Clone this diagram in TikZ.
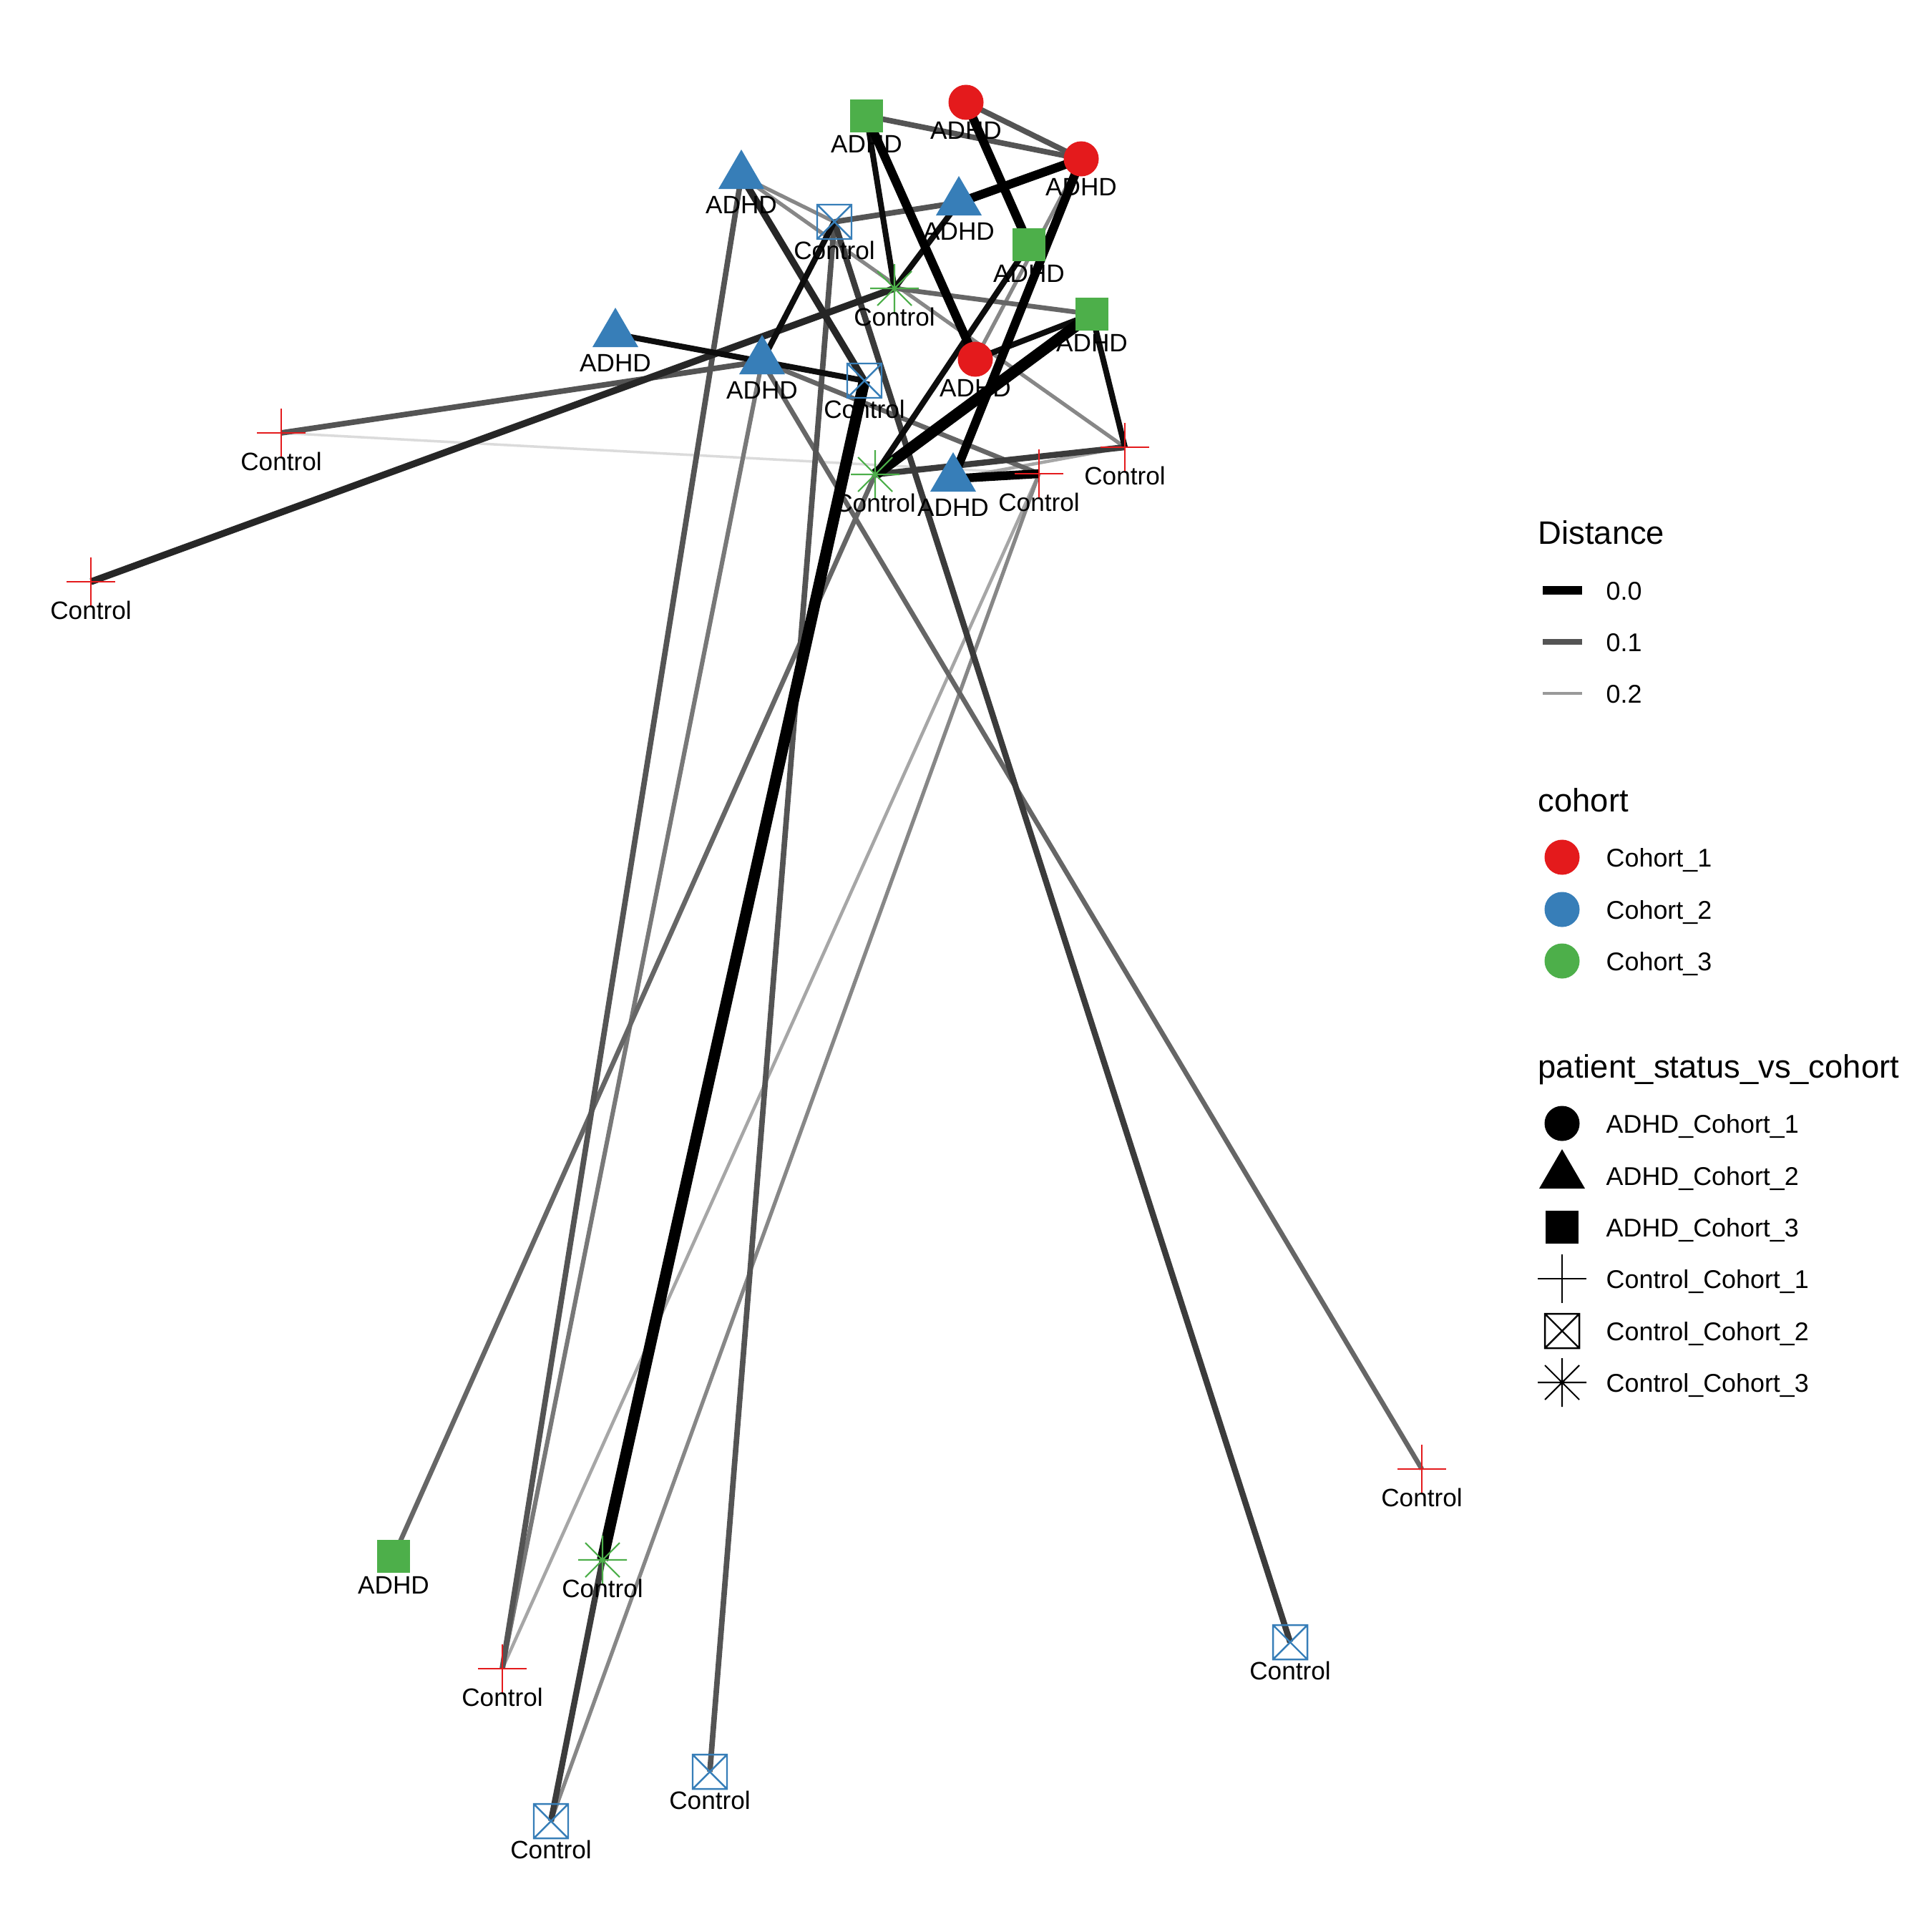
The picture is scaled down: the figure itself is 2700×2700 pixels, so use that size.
\documentclass[tikz,border=0pt]{standalone}
\usepackage{fontspec}
\setmainfont{Liberation Sans}
\usetikzlibrary{calc}
\definecolor{cA}{HTML}{E41A1C}
\definecolor{cB}{HTML}{377EB8}
\definecolor{cC}{HTML}{4DAF4A}
\begin{document}
\begin{tikzpicture}[x=0.01cm,y=-0.01cm,
  lbl/.style={font=\fontsize{10}{12}\selectfont, anchor=base, inner sep=0pt},
  leg/.style={font=\fontsize{10.2}{12}\selectfont, anchor=base west, inner sep=0pt},
  legt/.style={font=\fontsize{12.9}{15}\selectfont, anchor=base west, inner sep=0pt},
  e0/.style={draw=black, line width=4.5pt},
  e1/.style={draw=black, line width=3.5pt},
  e2/.style={draw=black!95, line width=2.3pt},
  e3/.style={draw=black!85, line width=2.7pt},
  e4/.style={draw=black!77, line width=2.4pt},
  e5/.style={draw=black!67, line width=2.2pt},
  e6/.style={draw=black!60, line width=1.9pt},
  e6b/.style={draw=black!53, line width=1.75pt},
  e7/.style={draw=black!47, line width=1.5pt},
  e8/.style={draw=black!35, line width=1.3pt},
  e9/.style={draw=black!14, line width=1.0pt},
  pics/pcirc/.style={code={\fill[#1] (0,0) circle[radius=0.245cm];}},
  pics/ptri/.style={code={\fill[#1] (-32,18)--(32,18)--(0,-37)--cycle;}},
  pics/psq/.style={code={\fill[#1] (-23,-23) rectangle (23,23);}},
  pics/pplus/.style={code={\draw[#1, line width=0.6pt] (-34,0)--(34,0) (0,-34)--(0,34);}},
  pics/pbox/.style={code={\draw[#1, line width=0.7pt] (-24,-24) rectangle (24,24) (-24,-24)--(24,24) (-24,24)--(24,-24);}},
  pics/pstar/.style={code={\draw[#1, line width=0.6pt] (-34,0)--(34,0) (0,-34)--(0,34) (-24,-24)--(24,24) (-24,24)--(24,-24);}},
]
\fill[white] (0,0) rectangle (2700,2700);
\useasboundingbox (0,0) rectangle (2700,2700);

% node positions
\coordinate (R1) at (1350,143);
\coordinate (R2) at (1511,222);
\coordinate (R3) at (1363,502);
\coordinate (G1) at (1211,162);
\coordinate (G2) at (1438,342);
\coordinate (G3) at (1526,439);
\coordinate (G4) at (550,2175);
\coordinate (B1) at (1036,246);
\coordinate (B2) at (1340,283);
\coordinate (B3) at (860,467);
\coordinate (B4) at (1065,505);
\coordinate (B5) at (1332,669);
\coordinate (X1) at (1166,310);
\coordinate (X2) at (1208,532);
\coordinate (X3) at (1803,2295);
\coordinate (X4) at (992,2476);
\coordinate (X5) at (770,2545);
\coordinate (P1) at (393,605);
\coordinate (P2) at (127,813);
\coordinate (P3) at (1572,625);
\coordinate (P4) at (1452,662);
\coordinate (P5) at (1987,2053);
\coordinate (P6) at (702,2332);
\coordinate (S1) at (1250,403);
\coordinate (S2) at (1223,663);
\coordinate (S3) at (842,2180);

% edges
\draw[e9] (P1) -- (P4);
\draw[e8] (P6) -- (P4);
\draw[e8] (B5) -- (P3);
\draw[e7] (X5) -- (P4);
\draw[e7] (R2) -- (R3);
\draw[e7] (B1) -- (P3);
\draw[e7] (B1) -- (X1);
\draw[e6b] (P6) -- (B4);
\draw[e6] (B4) -- (P5);
\draw[e6] (G4) -- (S2);
\draw[e6] (S1) -- (G3);
\draw[e6] (B4) -- (P4);
\draw[e5] (G1) -- (R2);
\draw[e5] (R1) -- (R2);
\draw[e5] (X1) -- (X4);
\draw[e5] (P6) -- (B1);
\draw[e5] (P1) -- (B4);
\draw[e5] (X1) -- (B2);
\draw[e4] (X1) -- (X3);
\draw[e4] (S3) -- (X5);
\draw[e4] (S2) -- (P3);
\draw[e3] (P2) -- (S1);
\draw[e3] (B1) -- (X2);
\draw[e2] (G1) -- (S1);
\draw[e2] (B2) -- (S1);
\draw[e2] (G2) -- (S2);
\draw[e2] (G3) -- (R3);
\draw[e2] (G3) -- (P3);
\draw[e2] (B3) -- (X2);
\draw[e2] (X1) -- (B4);
\draw[e1] (G1) -- (R3);
\draw[e1] (R2) -- (B2);
\draw[e1] (R2) -- (B5);
\draw[e1] (R1) -- (G2);
\draw[e1] (B5) -- (P4);
\draw[e0] (X2) -- (S3);
\draw[e0] (G3) -- (S2);

% markers
\foreach \n in {R1,R2,R3} \pic at (\n) {pcirc=cA};
\foreach \n in {G1,G2,G3,G4} \pic at (\n) {psq=cC};
\foreach \n in {B1,B2,B3,B4,B5} \pic at (\n) {ptri=cB};
\foreach \n in {X1,X2,X3,X4,X5} \pic at (\n) {pbox=cB};
\foreach \n in {P1,P2,P3,P4,P5,P6} \pic at (\n) {pplus=cA};
\foreach \n in {S1,S2,S3} \pic at (\n) {pstar=cC};

% labels
\foreach \n in {R1,R2,R3,G1,G2,G3,G4,B1,B2,B3,B4,B5}
  \node[lbl] (l\n) at ($(\n)+(0,52)$) {ADHD};
\foreach \n in {X1,X2,X3,X4,X5,P1,P2,P3,P4,P5,P6,S1,S2,S3}
  \node[lbl] (l\n) at ($(\n)+(0,52)$) {Control};

% legend: Distance
\node[legt] (tD) at (2149,760) {Distance};
\coordinate (k1a) at (2156,825); \coordinate (k1b) at (2211,825);
\coordinate (k2a) at (2156,897); \coordinate (k2b) at (2211,897);
\coordinate (k3a) at (2156,969); \coordinate (k3b) at (2211,969);
\draw[black, line width=3.4pt] (k1a) -- (k1b);
\draw[black!67, line width=2.2pt] (k2a) -- (k2b);
\draw[black!40, line width=1.3pt] (k3a) -- (k3b);
\node[leg] (d1) at (2244,838) {0.0};
\node[leg] (d2) at (2244,910) {0.1};
\node[leg] (d3) at (2244,982) {0.2};

% legend: cohort
\node[legt] (tC) at (2149,1134) {cohort};
\coordinate (c1) at (2183,1198);
\coordinate (c2) at (2183,1271);
\coordinate (c3) at (2183,1343);
\pic at (c1) {pcirc=cA};
\pic at (c2) {pcirc=cB};
\pic at (c3) {pcirc=cC};
\node[leg] (lc1) at (2244,1211) {Cohort\_1};
\node[leg] (lc2) at (2244,1284) {Cohort\_2};
\node[leg] (lc3) at (2244,1356) {Cohort\_3};

% legend: patient_status_vs_cohort
\node[legt] (tP) at (2149,1506) {patient\_status\_vs\_cohort};
\coordinate (s1) at (2183,1570);
\coordinate (s2) at (2183,1643);
\coordinate (s3) at (2183,1715);
\coordinate (s4) at (2183,1787);
\coordinate (s5) at (2183,1860);
\coordinate (s6) at (2183,1932);
\pic at (s1) {pcirc=black};
\pic at (s2) {ptri=black};
\pic at (s3) {psq=black};
\pic at (s4) {pplus=black};
\pic at (s5) {pbox=black};
\pic at (s6) {pstar=black};
\node[leg] (ls1) at (2244,1583) {ADHD\_Cohort\_1};
\node[leg] (ls2) at (2244,1656) {ADHD\_Cohort\_2};
\node[leg] (ls3) at (2244,1728) {ADHD\_Cohort\_3};
\node[leg] (ls4) at (2244,1800) {Control\_Cohort\_1};
\node[leg] (ls5) at (2244,1873) {Control\_Cohort\_2};
\node[leg] (ls6) at (2244,1945) {Control\_Cohort\_3};
\end{tikzpicture}
\end{document}
